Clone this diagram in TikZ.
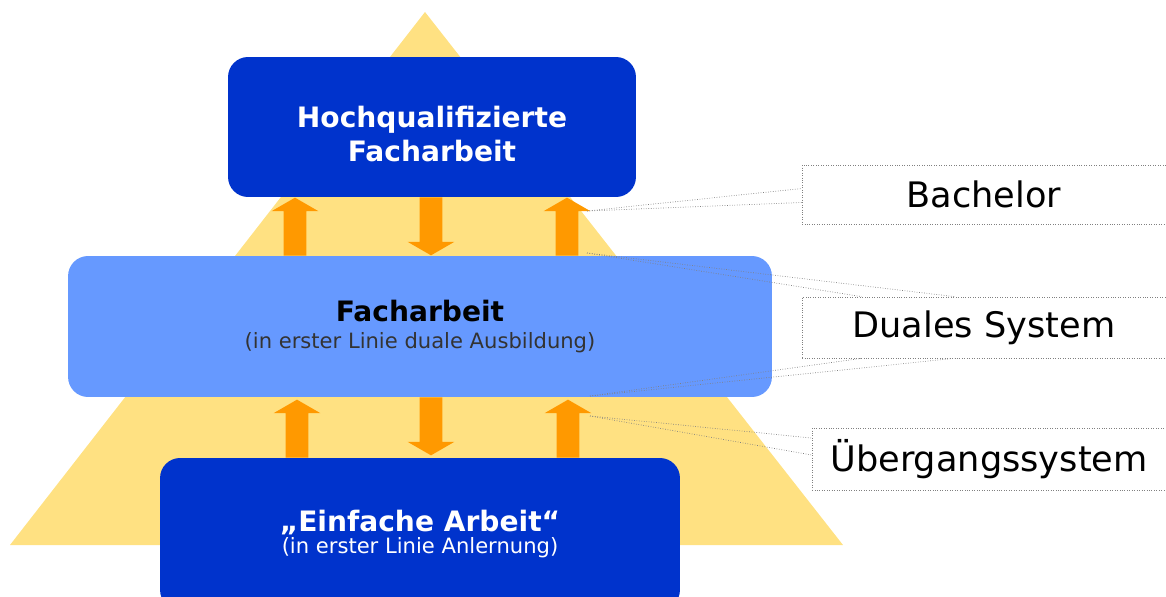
\documentclass[tikz,border=0pt]{standalone}
\usepackage{fontspec}
\setmainfont{DejaVu Sans}
\usetikzlibrary{shapes.arrows,positioning,calc}
\definecolor{darkblue}{RGB}{0,51,204}
\definecolor{lightblue}{RGB}{102,153,255}
\definecolor{pyramid}{RGB}{255,225,130}
\definecolor{orangearr}{RGB}{255,153,0}

\begin{document}
\begin{tikzpicture}[x=0.02cm,y=-0.02cm,
            tierbox/.style={rectangle, rounded corners=0.4cm, align=center, inner sep=0pt},
            darktier/.style={tierbox, fill=darkblue, text=white},
            lighttier/.style={tierbox, fill=lightblue, text=black},
            myarrow/.style={single arrow, draw=none, fill=orangearr, anchor=tail,
                inner xsep=0pt, inner ysep=0.22cm, minimum height=1.16cm,
                single arrow head extend=0.24cm, single arrow tip angle=120},
            sidebox/.style={rectangle, draw=gray, densely dotted, fill=white,
                font=\fontsize{20}{24}\selectfont, inner sep=0pt},
            callout/.style={draw=gray, densely dotted, thin}]

            \clip (0,0) rectangle (1166,597);

            % pyramid in the back
            \fill[pyramid] (425,12) -- (843,545) -- (10,545) -- cycle;

            \node [darktier, minimum width=8.16cm, minimum height=2.8cm] (hoch) at (432,127) {};
            \node [text=white, align=center, font=\bfseries\fontsize{16}{19.5}\selectfont]
                (hochtext) at ($(hoch.center)+(0,7)$) {Hochqualifizierte\\Facharbeit};
            \node [lighttier, minimum width=14.08cm, minimum height=2.82cm] (fach) at (420,326.5)
                {{\bfseries\fontsize{16}{19}\selectfont Facharbeit}\\[3pt]
                {\color{black!80}\fontsize{12}{14}\selectfont (in erster Linie duale Ausbildung)}};
            \node [darktier, minimum width=10.4cm, minimum height=3.04cm] (einfach) at (420,534)
                {{\bfseries\fontsize{16}{19}\selectfont „Einfache Arbeit“}\\[1pt]
                {\fontsize{12}{14}\selectfont (in erster Linie Anlernung)}};

            % arrows between the tiers
            \node [myarrow, rotate=90]  (u1) at (295,256) {};
            \node [myarrow, rotate=-90] (d1) at (431,197) {};
            \node [myarrow, rotate=90]  (u2) at (567,256) {};
            \node [myarrow, rotate=90]  (u3) at (297,458) {};
            \node [myarrow, rotate=-90] (d2) at (431,397) {};
            \node [myarrow, rotate=90]  (u4) at (568,458) {};

            % labels on the right
            \node [sidebox, minimum width=7.28cm, minimum height=1.18cm] (bach) at (984,194.5) {Bachelor};
            \node [sidebox, minimum width=7.28cm, minimum height=1.22cm] (duales) at (984,327.5) {Duales System};
            \node [sidebox, minimum width=7.08cm, minimum height=1.24cm] (uebergang) at (989,459) {Übergangssystem};

            \coordinate (cb) at (587,211);
            \coordinate (cd1) at (587,253);
            \coordinate (cd2) at (590,396);
            \coordinate (cu) at (590,416);

            \draw [callout] (cb) -- ($(bach.west)+(0,-6)$);
            \draw [callout] (cb) -- ($(bach.west)+(0,8)$);
            \draw [callout] (cd1) -- ($(duales.north west)+(60,0)$);
            \draw [callout] (cd1) -- ($(duales.north west)+(153,0)$);
            \draw [callout] (cd2) -- ($(duales.south west)+(60,0)$);
            \draw [callout] (cd2) -- ($(duales.south west)+(153,0)$);
            \draw [callout] (cu) -- ($(uebergang.west)+(0,-21)$);
            \draw [callout] (cu) -- ($(uebergang.west)+(0,-4)$);

        \end{tikzpicture}
\end{document}
